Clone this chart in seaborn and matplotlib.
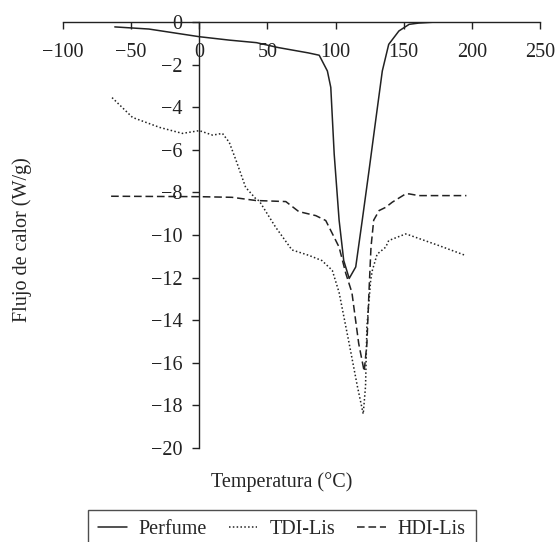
import numpy as np
import pandas as pd
import seaborn as sns
import matplotlib
matplotlib.use('Agg')
import matplotlib.pyplot as plt

# datos
perfume_t = [-62, -37, 0, 22, 42, 58, 80, 88, 94, 96.5, 99, 102.6, 106, 110, 114.8, 119.6, 124.5, 129.4, 134.3, 139, 146.5, 154, 161, 174, 198]
perfume_f = [-0.23, -0.33, -0.69, -0.85, -0.97, -1.2, -1.45, -1.56, -2.3, -3.07, -6.2, -9.3, -11.2, -12.04, -11.5, -9.3, -7.0, -4.64, -2.3, -1.05, -0.42, -0.11, -0.05, 0.0, 0.0]

tdi_t = [-64, -49, -29, -12.4, 0, 9.8, 17, 22, 27, 34, 41.5, 44, 56, 68, 80.6, 90, 97.6, 102.6, 110, 116, 120.3, 122, 123, 125.8, 127, 130.5, 136.8, 139, 151.4, 154, 176, 195.4]
tdi_f = [-3.55, -4.48, -4.95, -5.23, -5.1, -5.31, -5.23, -5.65, -6.5, -7.76, -8.3, -8.4, -9.63, -10.7, -10.96, -11.2, -11.66, -12.7, -15.1, -17.1, -18.4, -17.1, -14.3, -12.1, -11.66, -10.9, -10.57, -10.26, -9.95, -10.0, -10.5, -10.96]

hdi_t = [-64.7, 0, 24, 41.5, 63.5, 73, 85.5, 92.8, 97.6, 102.6, 107.5, 112, 117, 121, 123, 124.5, 126, 128, 132, 136.8, 141.6, 151.4, 154, 161, 196]
hdi_f = [-8.18, -8.2, -8.23, -8.38, -8.43, -8.9, -9.09, -9.32, -9.93, -10.57, -11.8, -12.7, -15.1, -16.4, -15.1, -12.7, -10.57, -9.3, -8.85, -8.7, -8.46, -8.07, -8.07, -8.15, -8.15]

series = ['Perfume', 'TDI-Lis', 'HDI-Lis']

df = pd.concat([
    pd.DataFrame({'T': perfume_t, 'F': perfume_f, 'Serie': 'Perfume'}),
    pd.DataFrame({'T': tdi_t, 'F': tdi_f, 'Serie': 'TDI-Lis'}),
    pd.DataFrame({'T': hdi_t, 'F': hdi_f, 'Serie': 'HDI-Lis'}),
], ignore_index=True)

sns.set_style('white')
plt.rcParams['font.family'] = ['Liberation Serif', 'DejaVu Serif']
plt.rcParams['font.size'] = 14.5

fig = plt.figure(figsize=(5.58, 5.42), dpi=100)
ax = fig.add_axes([0.1129, 0.1734, 0.8548, 0.786])

sns.lineplot(data=df, x='T', y='F', style='Serie', style_order=series,
             dashes={'Perfume': '', 'TDI-Lis': (1, 1.5), 'HDI-Lis': (5, 2.5)},
             color='#222222', linewidth=1.1, sort=False, ax=ax, legend=True)

ax.set_xlim(-100, 250)
ax.set_ylim(-20, 0)
ax.spines['left'].set_position(('data', 0))
ax.spines['bottom'].set_position(('data', 0))
ax.spines['right'].set_visible(False)
ax.spines['top'].set_visible(False)
for s in ['left', 'bottom']:
    ax.spines[s].set_color('#222222')
    ax.spines[s].set_linewidth(1.0)
    ax.spines[s].set_clip_on(False)

ax.set_xticks(np.arange(-100, 251, 50))
ax.set_yticks(np.arange(-20, 1, 2))
ax.tick_params(axis='x', bottom=True, direction='out', length=5, width=1.0, pad=10, colors='#222222')
ax.tick_params(axis='y', left=True, direction='out', length=5, width=1.0, pad=7, colors='#222222')

ax.set_xlabel('Temperatura (°C)')
ax.xaxis.set_label_coords(0.459, -0.056)
ax.set_ylabel('Flujo de calor (W/g)')
ax.yaxis.set_label_coords(-0.066, 0.49)

ax.get_legend().remove()
handles = ax.get_lines()[:3]
leg = fig.legend(handles, series, loc='upper center', bbox_to_anchor=(282 / 558, 1 - 500 / 542),
                 ncol=3, frameon=True, fancybox=False, edgecolor='#222222',
                 handlelength=1.4, handletextpad=0.6, columnspacing=1.1, borderpad=0.5)
leg.get_frame().set_linewidth(1.0)

fig.savefig('out.png', dpi=100)
